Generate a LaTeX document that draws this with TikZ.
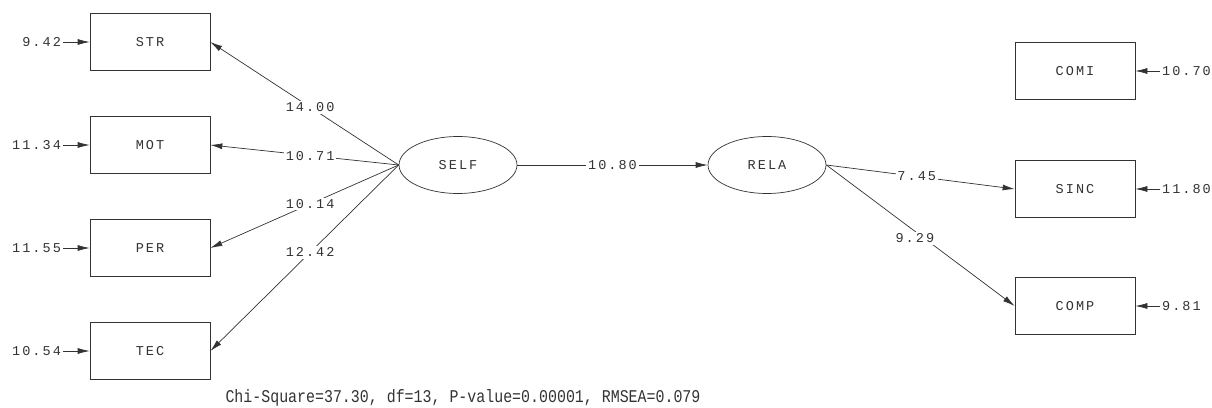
\documentclass[tikz,border=0pt]{standalone}
\usepackage{fontspec}
\newfontfamily\labfont[LetterSpace=15]{Liberation Mono}
\newfontfamily\fitfont{Liberation Mono}
\usetikzlibrary{positioning}
\usetikzlibrary{shapes}
\usetikzlibrary{arrows.meta}
\definecolor{ink}{HTML}{333333}

\begin{document}
\begin{tikzpicture}[x=0.02cm, y=-0.02cm,
  every node/.style={font=\labfont\fontsize{7.7}{9}\selectfont, text=ink, inner sep=1pt},
  obs/.style={draw=ink, fill=white, minimum width=2.4cm, minimum height=1.14cm},
  lat/.style={draw=ink, fill=white, ellipse, minimum width=2.36cm, minimum height=1.14cm},
  w/.style={fill=white},
  >={Latex[length=2.4mm,width=1.2mm]}]
  \useasboundingbox (0,0) rectangle (1212,408);

  \node[obs] (str) at (150,42) {STR};
  \node[obs] (mot) at (150,145) {MOT};
  \node[obs] (per) at (150,248) {PER};
  \node[obs] (tec) at (150,351) {TEC};
  \node[lat] (self) at (458,165) {SELF};
  \node[lat] (rela) at (767,165) {RELA};
  \node[obs] (comi) at (1075,71) {COMI};
  \node[obs] (sinc) at (1075,189) {SINC};
  \node[obs] (comp) at (1075,306) {COMP};

  % error variances
  \node[anchor=east] (estr) at (63,42) {9.42};
  \node[anchor=east] (emot) at (63,145) {11.34};
  \node[anchor=east] (eper) at (63,248) {11.55};
  \node[anchor=east] (etec) at (63,351) {10.54};
  \node[anchor=west] (ecomi) at (1160,71) {10.70};
  \node[anchor=west] (esinc) at (1160,189) {11.80};
  \node[anchor=west] (ecomp) at (1160,306) {9.81};

  \path[ink, ->] (estr) edge (str) (emot) edge (mot) (eper) edge (per) (etec) edge (tec)
  (ecomi) edge (comi) (esinc) edge (sinc) (ecomp) edge (comp);

  \path[ink, ->] (self.west) edge node[w, pos=0.47] {14.00} (str.east)
  (self.west) edge node[w, pos=0.47] {10.71} (mot.east)
  (self.west) edge node[w, pos=0.47] {10.14} (per.east)
  (self.west) edge node[w, pos=0.47] {12.42} (tec.east)
  (self.east) edge node[w] {10.80} (rela.west)
  (rela.east) edge node[w, pos=0.48] {7.45} (sinc.west)
  (rela.east) edge node[w, pos=0.47, yshift=-4] {9.29} (comp.west);

  \node[font=\fitfont\fontsize{8.5}{10}\selectfont, anchor=base] (fit) at (463,402) {\scalebox{1}[1.2]{Chi-Square=37.30, df=13, P-value=0.00001, RMSEA=0.079}};
\end{tikzpicture}
\end{document}
